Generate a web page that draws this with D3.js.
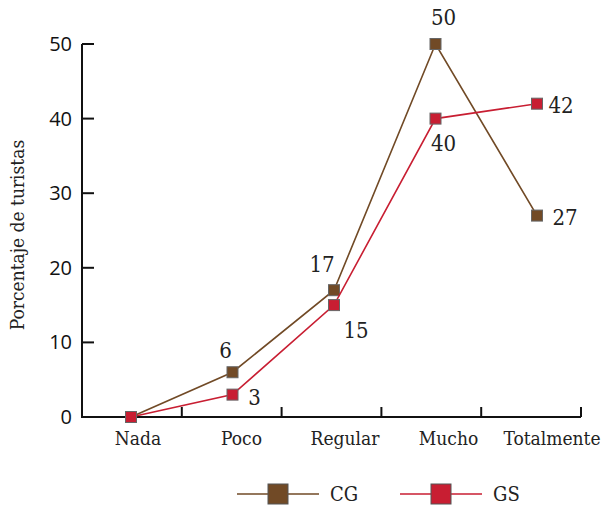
<!DOCTYPE html>
<html><head><meta charset="utf-8">
<script src="https://cdn.jsdelivr.net/npm/d3@7"></script>
<style>body{margin:0;background:#fff} .sf{font-family:'DejaVu Serif Condensed','DejaVu Serif',serif;font-stretch:condensed}</style>
</head><body>
<svg id="c" width="609" height="507"></svg>
<script>
const categories = ["Nada","Poco","Regular","Mucho","Totalmente"];
const cgValues = [0,6,17,50,27];
const gsValues = [0,3,15,40,42];
const yTicks = [0,10,20,30,40,50];
const seriesNames = ["CG","GS"];
const colors = {CG:"#714a26", GS:"#c81e32"};
// label placement: [dx, dy] relative to point
const cgLabelOff = [null,[-7,-22],[-12,-26],[8,-27],[28,1]];
const gsLabelOff = [null,[22,2],[22,25],[8,24],[24,1]];

const svg = d3.select("#c");
const y = d3.scaleLinear().domain([0,50]).range([417,44]);
const xp = d3.scalePoint().domain(categories).range([131,537]);
const xb = d3.scaleBand().domain(categories).range([82,581]);
const xl = d3.scalePoint().domain(categories).range([138,552]);

// y axis
svg.append("line").attr("x1",82).attr("x2",82).attr("y1",44).attr("y2",417).attr("stroke","#111").attr("stroke-width",2);
svg.selectAll(".yt").data(yTicks).enter().append("line")
  .attr("x1",82).attr("x2",94).attr("y1",d=>y(d)).attr("y2",d=>y(d)).attr("stroke","#111").attr("stroke-width",2);
svg.selectAll(".yl").data(yTicks).enter().append("text")
  .attr("x",72).attr("y",d=>y(d)+7).attr("text-anchor","end")
  .attr("font-family","'Open Sans',sans-serif").attr("font-size",20).attr("fill","#111").text(d=>d);
svg.append("text").attr("class","sf").attr("transform","translate(24,235) rotate(-90)").attr("text-anchor","middle")
  .attr("font-size",19).attr("fill","#222").text("Porcentaje de turistas");

// x axis
svg.append("line").attr("x1",81).attr("x2",581).attr("y1",417).attr("y2",417).attr("stroke","#111").attr("stroke-width",2);
svg.selectAll(".xt").data(categories).enter().append("line")
  .attr("x1",d=>xb(d)+xb.bandwidth()).attr("x2",d=>xb(d)+xb.bandwidth())
  .attr("y1",407).attr("y2",417).attr("stroke","#111").attr("stroke-width",2);
svg.selectAll(".xl").data(categories).enter().append("text").attr("class","sf")
  .attr("x",d=>xl(d)).attr("y",445).attr("text-anchor","middle")
  .attr("font-size",19).attr("fill","#222").text(d=>d);

function drawSeries(vals,color,offs){
  const line = d3.line().x((d,i)=>xp(categories[i])).y(d=>y(d));
  svg.append("path").attr("d",line(vals)).attr("fill","none").attr("stroke",color).attr("stroke-width",1.6);
  svg.selectAll(null).data(vals).enter().append("rect")
    .attr("x",(d,i)=>xp(categories[i])-5.5).attr("y",d=>y(d)-5.5).attr("width",11).attr("height",11)
    .attr("fill",color).attr("stroke","#666").attr("stroke-width",1);
  svg.selectAll(null).data(vals.map((v,i)=>({v,i})).filter(d=>offs[d.i])).enter().append("text").attr("class","sf")
    .attr("x",d=>xp(categories[d.i])+offs[d.i][0]).attr("y",d=>y(d.v)+offs[d.i][1]+8)
    .attr("text-anchor","middle").attr("font-size",22).attr("fill","#222")
    .text(d=>d.v);
}
drawSeries(cgValues,colors.CG,cgLabelOff);
drawSeries(gsValues,colors.GS,gsLabelOff);

// legend
const lg = [{n:"CG",x:237},{n:"GS",x:400}];
lg.forEach(l=>{
  svg.append("line").attr("x1",l.x).attr("x2",l.x+82).attr("y1",494).attr("y2",494).attr("stroke",colors[l.n]).attr("stroke-width",1.6);
  svg.append("rect").attr("x",l.x+31).attr("y",484).attr("width",20).attr("height",20).attr("fill",colors[l.n]).attr("stroke","#555").attr("stroke-width",1);
  svg.append("text").attr("class","sf").attr("x",l.x+93).attr("y",501).attr("font-size",20).attr("fill","#222").text(l.n);
});
</script>
</body></html>
